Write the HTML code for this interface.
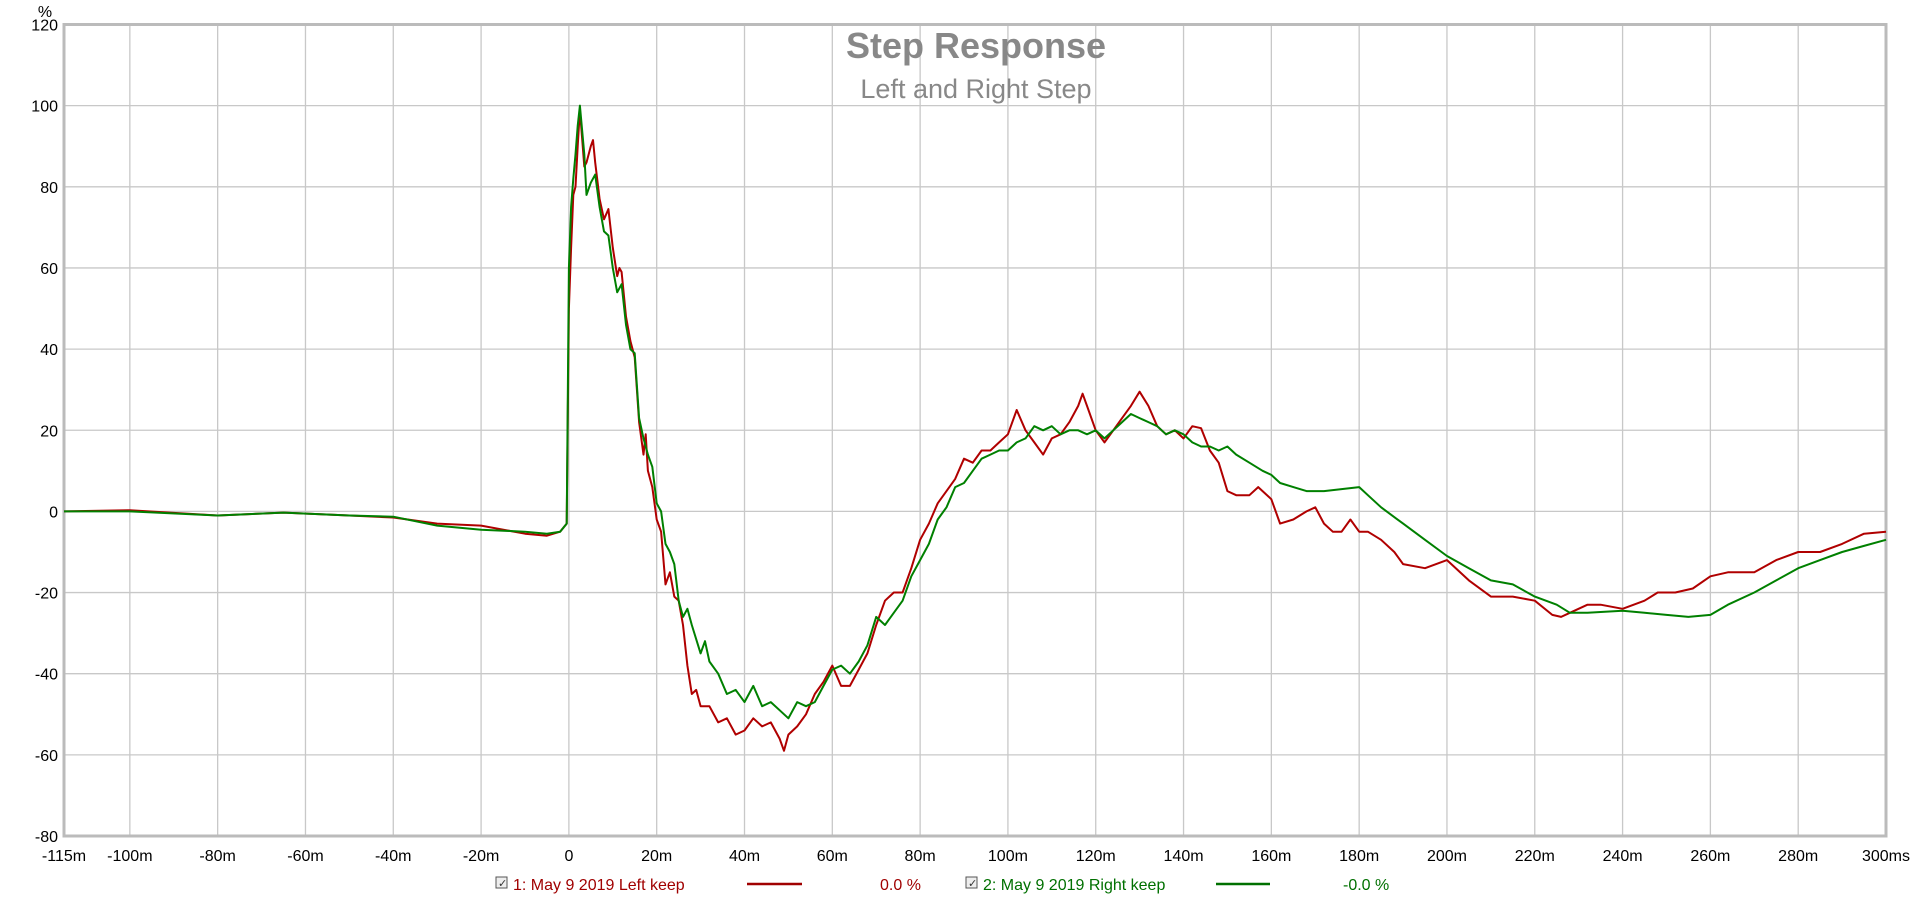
<!DOCTYPE html>
<html><head><meta charset="utf-8"><style>
html,body{margin:0;padding:0;background:#fff;}
svg{display:block;font-family:"Liberation Sans",Arial,sans-serif;}
</style></head><body>
<svg id="chart" width="1920" height="904">
<g id="grid"></g>
<g id="axes"></g>
<g id="series"></g>
<text x="976" y="58" text-anchor="middle" font-size="36" font-weight="bold" fill="#888">Step Response</text>
<text x="976" y="98" text-anchor="middle" font-size="27" fill="#888">Left and Right Step</text>
<text x="45" y="17" text-anchor="middle" font-size="16" fill="#000">%</text>
<g font-size="16">
 <g>
  <rect x="496" y="877" width="11" height="11" fill="#eee" stroke="#555"/>
  <text x="498" y="887" font-size="11" fill="#333">✓</text>
  <text x="513" y="890" fill="#a00000">1: May 9 2019 Left keep</text>
  <line x1="747" y1="884" x2="802" y2="884" stroke="#a00000" stroke-width="2.5"/>
  <text x="880" y="890" fill="#a00000">0.0 %</text>
 </g>
 <g>
  <rect x="966" y="877" width="11" height="11" fill="#eee" stroke="#555"/>
  <text x="968" y="887" font-size="11" fill="#333">✓</text>
  <text x="983" y="890" fill="#007000">2: May 9 2019 Right keep</text>
  <line x1="1216" y1="884" x2="1270" y2="884" stroke="#007000" stroke-width="2.5"/>
  <text x="1343" y="890" fill="#007000">-0.0 %</text>
 </g>
</g>
</svg>
<script>
const xTicks=[-100,-80,-60,-40,-20,0,20,40,60,80,100,120,140,160,180,200,220,240,260,280];
const xTickLabels=["-100m","-80m","-60m","-40m","-20m","0","20m","40m","60m","80m","100m","120m","140m","160m","180m","200m","220m","240m","260m","280m"];
const yTicks=[120,100,80,60,40,20,0,-20,-40,-60,-80];
const leftT=[-115,-100,-80,-65,-50,-40,-30,-20,-10,-5,-2,-0.5,0,0.5,1,1.5,2,2.5,3,3.5,4,5,5.5,6,7,8,9,10,11,11.5,12,13,14,15,16,17,17.5,18,19,20,21,22,23,24,25,26,27,28,29,30,32,34,36,38,40,42,44,46,48,49,50,52,54,56,58,60,62,64,66,68,70,72,74,76,78,80,82,84,86,88,90,92,94,96,98,100,102,104,106,108,110,112,114,116,117,118,120,122,124,126,128,130,132,134,136,138,140,142,144,146,148,150,152,155,157,160,162,165,168,170,172,174,176,178,180,182,185,188,190,195,200,205,210,215,220,224,226,228,232,235,240,245,248,252,256,260,264,270,275,280,285,290,295,300];
const leftV=[0,0.3,-1,-0.3,-1,-1.5,-3,-3.5,-5.5,-6,-5,-3,50,65,78,80,90,99,92,85,86,90,91.5,86,77,72,74.5,65,58,60,59,48,42,38,22,14,19,10,6,-2,-5,-18,-15,-21,-22,-28,-38,-45,-44,-48,-48,-52,-51,-55,-54,-51,-53,-52,-56,-59,-55,-53,-50,-45,-42,-38,-43,-43,-39,-35,-28,-22,-20,-20,-14,-7,-3,2,5,8,13,12,15,15,17,19,25,20,17,14,18,19,22,26,29,26,20,17,20,23,26,29.5,26,21,19,20,18,21,20.5,15,12,5,4,4,6,3,-3,-2,0,1,-3,-5,-5,-2,-5,-5,-7,-10,-13,-14,-12,-17,-21,-21,-22,-25.5,-26,-25,-23,-23,-24,-22,-20,-20,-19,-16,-15,-15,-12,-10,-10,-8,-5.5,-5];
const rightT=[-115,-100,-80,-65,-50,-40,-30,-20,-10,-5,-2,-0.5,0,0.5,1,1.5,2,2.5,3,3.5,4,5,6,7,8,9,10,11,12,13,14,15,16,17,18,19,20,21,22,23,24,25,26,27,28,30,31,32,34,36,38,40,42,44,46,48,50,52,54,56,58,60,62,64,66,68,70,72,74,76,78,80,82,84,86,88,90,92,94,96,98,100,102,104,106,108,110,112,114,116,118,120,122,124,126,128,130,132,134,136,138,140,142,144,146,148,150,152,155,158,160,162,165,168,172,176,180,182,185,190,195,200,205,210,215,220,225,228,232,240,245,250,255,260,264,270,275,280,285,290,295,300];
const rightV=[0,0,-1,-0.3,-1,-1.3,-3.5,-4.5,-5,-5.5,-5,-3,60,75,82,88,95,100,94,88,78,81,83,75,69,68,60,54,56,46,40,39,23,18,14,11,2,0,-8,-10,-13,-22,-26,-24,-28,-35,-32,-37,-40,-45,-44,-47,-43,-48,-47,-49,-51,-47,-48,-47,-43,-39,-38,-40,-37,-33,-26,-28,-25,-22,-16,-12,-8,-2,1,6,7,10,13,14,15,15,17,18,21,20,21,19,20,20,19,20,18,20,22,24,23,22,21,19,20,19,17,16,16,15,16,14,12,10,9,7,6,5,5,5.5,6,4,1,-3,-7,-11,-14,-17,-18,-21,-23,-25,-25,-24.5,-25,-25.5,-26,-25.5,-23,-20,-17,-14,-12,-10,-8.5,-7];
const NS="http://www.w3.org/2000/svg";
const L=64,R=1886,T=24.5,B=836,X0=-115,X1=300,Y0=-80,Y1=120;
function sx(v){return L+(v-X0)/(X1-X0)*(R-L);}
function sy(v){return B-(v-Y0)/(Y1-Y0)*(B-T);}
function mk(tag,attrs,parent){const e=document.createElementNS(NS,tag);for(const k in attrs)e.setAttribute(k,attrs[k]);parent.appendChild(e);return e;}
const grid=document.getElementById('grid'),axes=document.getElementById('axes'),series=document.getElementById('series');
xTicks.forEach((t,i)=>{
 const ln=mk('line',{x1:sx(t),x2:sx(t),y1:T,y2:B,stroke:'#c8c8c8','stroke-width':1.3},grid);
 
 
 const tx=mk('text',{x:sx(t),y:861,'text-anchor':'middle','font-size':16,fill:'#000'},axes);
 tx.textContent=xTickLabels[i];
 
 
});
const e1=mk('text',{x:L,y:861,'text-anchor':'middle','font-size':16,fill:'#000'},axes);e1.textContent='-115m';


const e2=mk('text',{x:R,y:861,'text-anchor':'middle','font-size':16,fill:'#000'},axes);e2.textContent='300ms';


yTicks.forEach(t=>{
 const ln=mk('line',{x1:L,x2:R,y1:sy(t),y2:sy(t),stroke:'#c8c8c8','stroke-width':1.3},grid);
 
 
 const tx=mk('text',{x:58,y:sy(t)+6,'text-anchor':'end','font-size':16,fill:'#000'},axes);
 tx.textContent=String(t);
 
 
});
const frame=mk('rect',{x:L,y:T,width:R-L,height:B-T,fill:'none',stroke:'#bbb','stroke-width':3},axes);


function path(ts,vs,color,name){
 let d='';ts.forEach((t,i)=>{d+=(i?'L':'M')+sx(t).toFixed(1)+','+sy(vs[i]).toFixed(1);});
 const p=mk('path',{d:d,fill:'none',stroke:color,'stroke-width':2,'stroke-linejoin':'round'},series);
 
 
}
path(leftT,leftV,'#b00000','left-step-line');
path(rightT,rightV,'#008000','right-step-line');
</script>
</body></html>
